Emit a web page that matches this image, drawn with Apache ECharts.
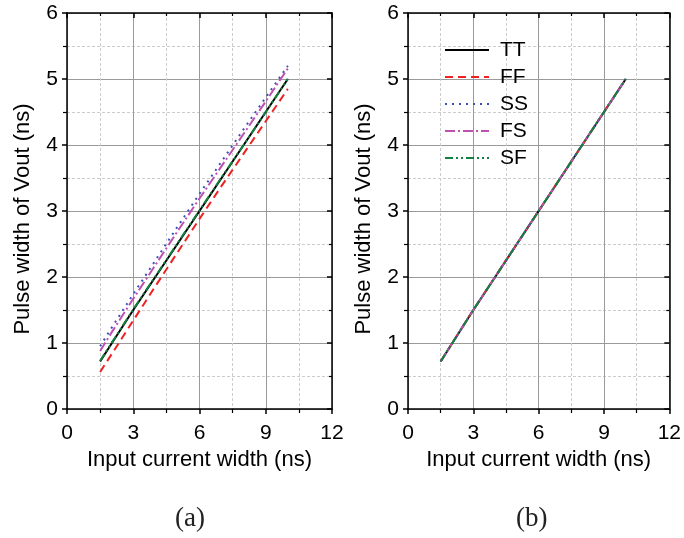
<!DOCTYPE html>
<html>
<head>
<meta charset="utf-8">
<script src="https://cdn.jsdelivr.net/npm/echarts@6/dist/echarts.min.js"></script>
<style>html,body{margin:0;padding:0;background:#fff}#c{width:684px;height:538px}</style>
</head>
<body>
<div id="c"></div>
<script>
// ---- data ----
const xInput = [1.5, 2, 3, 4, 5, 6, 7, 8, 9, 10];
// panel (a)
const aTT = [0.72, 0.98, 1.50, 2.00, 2.50, 3.00, 3.50, 4.00, 4.50, 5.00];
const aFF = [0.56, 0.82, 1.34, 1.86, 2.37, 2.88, 3.38, 3.87, 4.36, 4.85];
const aSS = [0.95, 1.22, 1.74, 2.25, 2.76, 3.26, 3.75, 4.24, 4.72, 5.20];
const aFS = [0.88, 1.15, 1.67, 2.18, 2.69, 3.19, 3.68, 4.17, 4.66, 5.16];
const aSF = [0.73, 0.99, 1.51, 2.01, 2.51, 3.01, 3.51, 4.00, 4.50, 5.00];
// panel (b)
const bTT = [0.72, 0.98, 1.50, 2.00, 2.50, 3.00, 3.50, 4.00, 4.50, 5.00];
const bFF = [0.72, 0.98, 1.50, 2.00, 2.50, 3.00, 3.50, 4.00, 4.50, 5.00];
const bSS = [0.72, 0.98, 1.50, 2.00, 2.50, 3.00, 3.50, 4.00, 4.50, 5.00];
const bFS = [0.72, 0.98, 1.50, 2.00, 2.50, 3.00, 3.50, 4.00, 4.50, 5.00];
const bSF = [0.72, 0.98, 1.50, 2.00, 2.50, 3.00, 3.50, 4.00, 4.50, 5.00];
const seriesNames = ['TT', 'FF', 'SS', 'FS', 'SF'];
const xLabel = 'Input current width (ns)';
const yLabel = 'Pulse width of Vout (ns)';
const panelLabels = ['(a)', '(b)'];

// ---- styles ----
const styles = {
  TT: {color: '#000000', type: 'solid'},
  FF: {color: '#ee2222', type: [8, 5]},
  SS: {color: '#3a4fc0', type: [2, 5]},
  FS: {color: '#c050b0', type: [10, 3, 2, 3]},
  SF: {color: '#13803f', type: [8, 3, 2, 3, 2, 3]}
};
const FONT = 'Liberation Sans';
const axisLineStyle = {color: '#000', width: 1.5};

function mainX(gi) {
  return {
    type: 'value', gridIndex: gi, min: 0, max: 12, interval: 3, position: 'bottom',
    name: xLabel, nameLocation: 'middle', nameGap: 37,
    nameTextStyle: {fontFamily: FONT, fontSize: 22, color: '#000'},
    axisLine: {show: true, onZero: false, lineStyle: axisLineStyle},
    axisTick: {show: true, inside: false, length: 5, lineStyle: {color: '#000', width: 1.5}},
    minorTick: {show: true, splitNumber: 2, length: 4, lineStyle: {color: '#000', width: 1.2}},
    axisLabel: {fontFamily: FONT, fontSize: 21, color: '#000', margin: 14},
    splitLine: {show: true, lineStyle: {color: '#9a9a9a', width: 1}},
    minorSplitLine: {show: true, lineStyle: {color: '#cccccc', width: 1, type: [3, 2]}}
  };
}
function topX(gi) {
  return {
    type: 'value', gridIndex: gi, min: 0, max: 12, interval: 3, position: 'top',
    axisLine: {show: true, onZero: false, lineStyle: axisLineStyle},
    axisTick: {show: true, inside: true, length: 5, lineStyle: {color: '#000', width: 1.5}},
    minorTick: {show: true, splitNumber: 2, length: 3, lineStyle: {color: '#000', width: 1.2}},
    axisLabel: {show: false}, splitLine: {show: false}
  };
}
function mainY(gi) {
  return {
    type: 'value', gridIndex: gi, min: 0, max: 6, interval: 1, position: 'left',
    name: yLabel, nameLocation: 'middle', nameGap: 33, nameRotate: 90,
    nameTextStyle: {fontFamily: FONT, fontSize: 22, color: '#000', padding: [0, 16, 0, 0]},
    axisLine: {show: true, onZero: false, lineStyle: axisLineStyle},
    axisTick: {show: true, inside: false, length: 5, lineStyle: {color: '#000', width: 1.5}},
    minorTick: {show: true, splitNumber: 2, length: 4, lineStyle: {color: '#000', width: 1.2}},
    axisLabel: {fontFamily: FONT, fontSize: 21, color: '#000', margin: 9},
    splitLine: {show: true, lineStyle: {color: '#9a9a9a', width: 1}},
    minorSplitLine: {show: true, lineStyle: {color: '#cccccc', width: 1, type: [3, 2]}}
  };
}
function rightY(gi) {
  return {
    type: 'value', gridIndex: gi, min: 0, max: 6, interval: 1, position: 'right',
    axisLine: {show: true, onZero: false, lineStyle: axisLineStyle},
    axisTick: {show: true, inside: true, length: 5, lineStyle: {color: '#000', width: 1.5}},
    minorTick: {show: true, splitNumber: 2, length: 3, lineStyle: {color: '#000', width: 1.2}},
    axisLabel: {show: false}, splitLine: {show: false}
  };
}
function mk(name, ys, xi, yi) {
  return {
    name: name, type: 'line', xAxisIndex: xi, yAxisIndex: yi,
    data: xInput.map((x, i) => [x, ys[i]]),
    symbol: 'none', smooth: false, animation: false,
    lineStyle: {color: styles[name].color, type: styles[name].type, width: 2},
    itemStyle: {color: styles[name].color}
  };
}
const aData = {TT: aTT, FF: aFF, SS: aSS, FS: aFS, SF: aSF};
const bData = {TT: bTT, FF: bFF, SS: bSS, FS: bFS, SF: bSF};
const series = [];
seriesNames.forEach(n => series.push(mk(n, aData[n], 0, 0)));
seriesNames.forEach(n => series.push(mk(n, bData[n], 2, 2)));

const chart = echarts.init(document.getElementById('c'), null, {renderer: 'canvas'});
chart.setOption({
  animation: false,
  backgroundColor: '#fff',
  grid: [
    {left: 67, right: 352, top: 13, bottom: 129},
    {left: 408, right: 12, top: 13, bottom: 129}
  ],
  xAxis: [mainX(0), topX(0), mainX(1), topX(1)],
  yAxis: [mainY(0), rightY(0), mainY(1), rightY(1)],
  legend: {
    data: seriesNames, orient: 'vertical', left: 444, top: 39, padding: 0,
    itemWidth: 44, itemHeight: 10, itemGap: 5,
    itemStyle: {opacity: 0},
    textStyle: {fontFamily: FONT, fontSize: 21, color: '#000', lineHeight: 22, padding: [0, 0, 0, 6]},
    selectedMode: false
  },
  graphic: [
    {type: 'text', left: 175, top: 505, style: {text: panelLabels[0], font: '27px "Liberation Serif"', fill: '#222'}},
    {type: 'text', left: 516, top: 505, style: {text: panelLabels[1], font: '27px "Liberation Serif"', fill: '#222'}}
  ],
  series: series
});
</script>
</body>
</html>
